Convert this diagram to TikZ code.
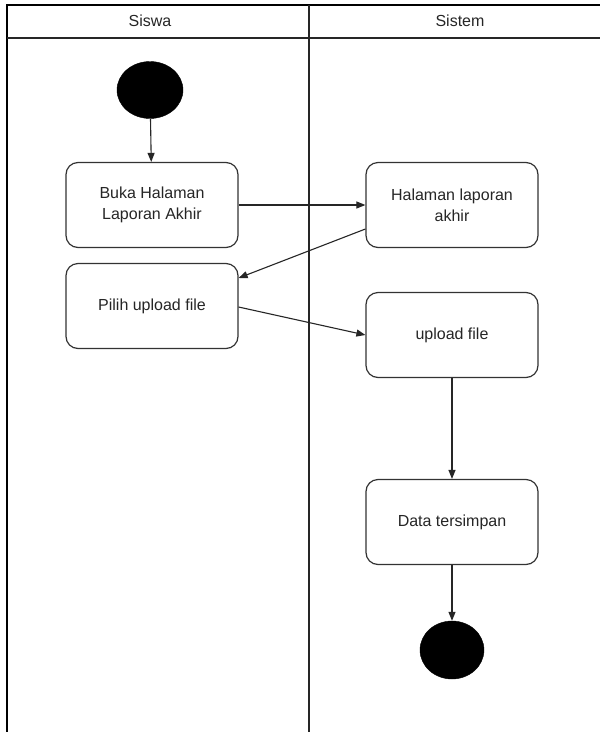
\documentclass[tikz,border=0pt]{standalone}
\usepackage{fontspec}
\setmainfont{Liberation Sans}
\usetikzlibrary{arrows.meta,shapes.geometric}
\begin{document}
\begin{tikzpicture}[x=1pt,y=-1pt,
  act/.style={draw=black!80, line width=1.2pt, rounded corners=12pt, fill=white,
    minimum width=172pt, minimum height=85pt, align=center, inner sep=0pt,
    font=\fontsize{16}{21}\selectfont, text=black!85},
  terminal/.style={ellipse, fill=black, draw=black, minimum width=66pt, minimum height=57pt, inner sep=0pt},
  flow/.style={draw=black!85, line width=1.1pt, -{Triangle[length=9pt,width=7pt]}},
  lane/.style={line width=1.2pt, draw=black!85},
  head/.style={font=\fontsize{16}{20}\selectfont, text=black!85}]
\useasboundingbox (0,0) rectangle (600,732);
\fill[white] (0,0) rectangle (600,732);

% swimlane frame
\draw[line width=2pt] (7,732) -- (7,5) -- (600,5);
\draw[lane] (7,38) -- (600,38);
\draw[lane] (309,5) -- (309,732);
\node[head] (siswa) at (150,21) {Siswa};
\node[head] (sistem) at (460,21) {Sistem};

% activities
\node[terminal] (start) at (150,90) {};
\node[act] (buka) at (152,205) {Buka Halaman\\Laporan Akhir};
\node[act] (hal) at (452,205) {Halaman laporan\\akhir};
\node[act] (pilih) at (152,306) {Pilih upload file};
\node[act] (upl) at (452,335) {upload file};
\node[act] (data) at (452,522) {Data tersimpan};
\node[terminal, minimum width=64pt, minimum height=58pt] (end) at (452,650) {};

% transitions
\draw[flow] (start) -- (buka);
\draw[flow] (buka.east) -- (hal.west);
\draw[flow] (hal.west |- 0,229) -- (pilih.east |- 0,278);
\draw[flow] (pilih.east |- 0,307) -- (upl.west |- 0,335);
\draw[flow] (upl) -- (data);
\draw[flow] (data) -- (end);
\end{tikzpicture}
\end{document}
